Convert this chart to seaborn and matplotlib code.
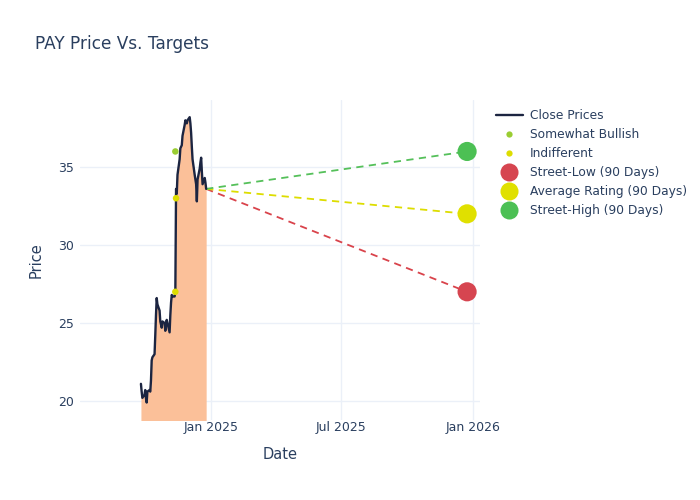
"""
PAY price vs. analyst targets chart.
"""
import numpy as np
import pandas as pd
import matplotlib
matplotlib.use('Agg')
import matplotlib.pyplot as plt
import matplotlib.dates as mdates
from matplotlib.lines import Line2D
import seaborn as sns

# Close prices, one per business day starting Sep 25 2024
start_date = "2024-09-25"
close_prices = [
    21.1, 20.6, 20.2, 20.4, 20.7, 20.2, 19.9, 20.6, 20.7, 20.6,
    21.3, 22.6, 22.8, 23.0, 24.2, 25.5, 26.6, 26.2, 25.8, 25.1,
    24.9, 24.7, 25.1, 25.0, 24.5, 25.0, 25.2, 25.0, 24.4, 25.5,
    26.3, 26.8, 26.7, 26.7, 27.0, 33.6, 33.3, 34.5, 35.5, 36.2,
    36.3, 36.4, 37.0, 37.7, 38.0, 37.9, 37.8, 38.0, 38.2, 37.8,
    37.2, 36.3, 35.5, 34.5, 34.2, 33.9, 32.8, 34.2, 34.9, 35.3,
    35.6, 34.7, 33.9, 34.3, 34.0, 33.6,
]

# Analyst ratings
rating_dates = ["2024-11-12", "2024-11-12", "2024-11-13"]
rating_prices = [36.0, 27.0, 33.0]
rating_labels = ["Somewhat Bullish", "Indifferent", "Indifferent"]

# 90 day targets
target_date = "2025-12-24"
target_names = ["Street-Low (90 Days)", "Average Rating (90 Days)", "Street-High (90 Days)"]
target_values = [27.0, 32.0, 36.0]

target_colors = ["#D64550", "#E0E000", "#4CC054"]
line_colors = ["#D9434B", "#DDDD00", "#55C05A"]
rating_colors = {"Somewhat Bullish": "#9ACD32", "Indifferent": "#DDDD00"}
text_color = "#2a3f5f"

dates = pd.bdate_range(start_date, periods=len(close_prices))
df = pd.DataFrame({"Date": dates, "Price": close_prices})
df_rat = pd.DataFrame({"Date": pd.to_datetime(rating_dates), "Price": rating_prices,
                       "Rating": rating_labels})
df_tgt = pd.DataFrame({"Date": pd.to_datetime([target_date] * 3), "Price": target_values,
                       "Target": target_names})

sns.set_style("white")
plt.rcParams['font.family'] = ['DejaVu Sans']

fig = plt.figure(figsize=(7, 5), dpi=100)
ax = fig.add_axes([80 / 700, 80 / 500, 400 / 700, 320 / 500])

ymin, ymax = 18.78, 39.3
ax.fill_between(df["Date"], ymin - 5, df["Price"], color="#FBC099", lw=0, zorder=1)
sns.lineplot(data=df, x="Date", y="Price", color="#1c2541", lw=1.7, ax=ax, zorder=3)

last_date = df["Date"].iloc[-1]
last_price = df["Price"].iloc[-1]
for val, col in zip(target_values, line_colors):
    ax.plot([last_date, pd.Timestamp(target_date)], [last_price, val],
            ls=(0, (4, 3)), color=col, lw=1.3, zorder=2)

sns.scatterplot(data=df_rat, x="Date", y="Price", hue="Rating", palette=rating_colors,
                s=22, edgecolor="none", legend=False, ax=ax, zorder=4)
sns.scatterplot(data=df_tgt, x="Date", y="Price", hue="Target",
                palette=dict(zip(target_names, target_colors)),
                s=190, edgecolor="none", legend=False, ax=ax, zorder=4)

ax.set_xlim(pd.Timestamp("2024-07-02"), pd.Timestamp("2026-01-11"))
ax.set_ylim(ymin, ymax)
ax.set_yticks([20, 25, 30, 35])
ax.xaxis.set_major_locator(mdates.MonthLocator(bymonth=[1, 7]))
ax.xaxis.set_major_formatter(mdates.DateFormatter("%b %Y"))
ax.grid(True, color="#EBF0F8", lw=1)
ax.set_axisbelow(True)
for s in ax.spines.values():
    s.set_visible(False)
ax.tick_params(axis="both", length=0, labelsize=9, colors=text_color)
ax.tick_params(axis="x", pad=1)
ax.tick_params(axis="y", pad=4)
ax.set_xlabel("Date", fontsize=10.5, color=text_color, labelpad=9)
ax.set_ylabel("Price", fontsize=10.5, color=text_color, labelpad=11)

fig.text(35 / 700, 1 - 44 / 500, "PAY Price Vs. Targets", fontsize=12.2,
         color=text_color, va="center", ha="left")

handles = [Line2D([], [], color="#1c2541", lw=1.7)]
handles += [Line2D([], [], ls="none", marker="o", ms=4.5, mec="none", color=rating_colors[k])
            for k in ["Somewhat Bullish", "Indifferent"]]
handles += [Line2D([], [], ls="none", marker="o", ms=13, mec="none", color=c)
            for c in target_colors]
labels = ["Close Prices", "Somewhat Bullish", "Indifferent"] + target_names
fig.legend(handles, labels, loc="upper left", bbox_to_anchor=(491 / 700, 1 - 104 / 500),
           frameon=False, fontsize=8.8, labelcolor=text_color, handlelength=2.2,
           handletextpad=0.55, labelspacing=0.5, borderaxespad=0)

fig.savefig("out.png", dpi=100)
plt.close(fig)
